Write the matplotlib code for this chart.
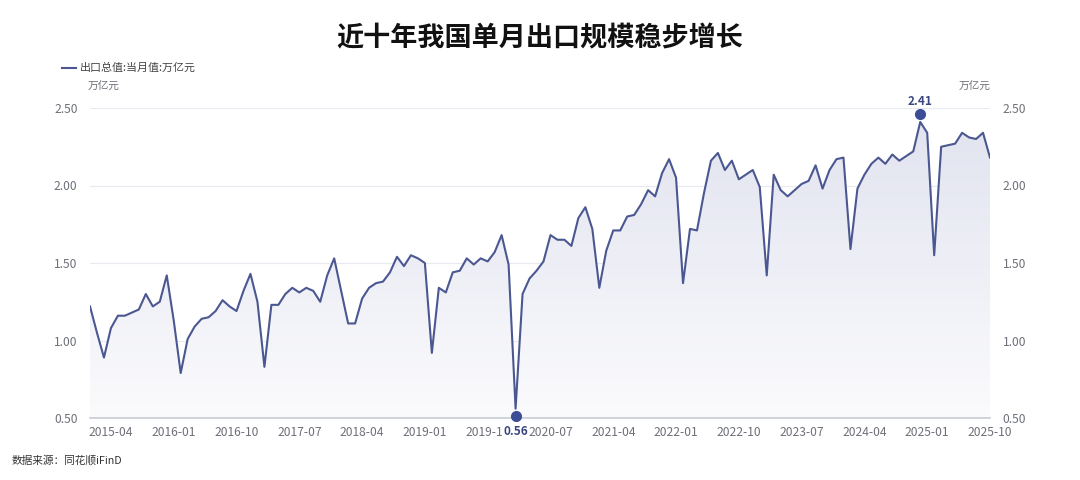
import numpy as np
import matplotlib
matplotlib.use('Agg')
import matplotlib.pyplot as plt
import matplotlib.transforms as mtransforms

plt.rcParams['font.family'] = ['Noto Sans CJK SC', 'DejaVu Sans']

#data: monthly export value, 2015-01 .. 2025-10 (万亿元)
months = [f'{y}-{m:02d}' for y in range(2015, 2026) for m in range(1, 13)][:130]
export_vals = [
    1.22, 1.05, 0.89, 1.08, 1.16, 1.16, 1.18, 1.20, 1.30, 1.22, 1.25, 1.42,   # 2015
    1.13, 0.79, 1.01, 1.09, 1.14, 1.15, 1.19, 1.26, 1.22, 1.19, 1.32, 1.43,   # 2016
    1.25, 0.83, 1.23, 1.23, 1.30, 1.34, 1.31, 1.34, 1.32, 1.25, 1.42, 1.53,   # 2017
    1.32, 1.11, 1.11, 1.27, 1.34, 1.37, 1.38, 1.44, 1.54, 1.48, 1.55, 1.53,   # 2018
    1.50, 0.92, 1.34, 1.31, 1.44, 1.45, 1.53, 1.49, 1.53, 1.51, 1.57, 1.68,   # 2019
    1.49, 0.56, 1.30, 1.40, 1.45, 1.51, 1.68, 1.65, 1.65, 1.61, 1.79, 1.86,   # 2020
    1.72, 1.34, 1.58, 1.71, 1.71, 1.80, 1.81, 1.88, 1.97, 1.93, 2.08, 2.17,   # 2021
    2.05, 1.37, 1.72, 1.71, 1.95, 2.16, 2.21, 2.10, 2.16, 2.04, 2.07, 2.10,   # 2022
    1.99, 1.42, 2.07, 1.97, 1.93, 1.97, 2.01, 2.03, 2.13, 1.98, 2.10, 2.17,   # 2023
    2.18, 1.59, 1.98, 2.07, 2.14, 2.18, 2.14, 2.20, 2.16, 2.19, 2.22, 2.41,   # 2024
    2.34, 1.55, 2.25, 2.26, 2.27, 2.34, 2.31, 2.30, 2.34, 2.18,               # 2025
]
tick_labels = ['2015-04', '2016-01', '2016-10', '2017-07', '2018-04', '2019-01',
               '2019-10', '2020-07', '2021-04', '2022-01', '2022-10', '2023-07',
               '2024-04', '2025-01', '2025-10']
y_ticks = [0.5, 1.0, 1.5, 2.0, 2.5]

x = np.arange(len(export_vals))
y = np.array(export_vals)
tick_pos = [months.index(t) for t in tick_labels]

line_c = '#4b5791'
mark_c = '#3d4c96'
grey = '#6e7079'

fig = plt.figure(figsize=(10.8, 4.8), dpi=100)
ax = fig.add_axes([90/1080, 62/480, 900/1080, 310/480])
ax.set_xlim(0, len(x) - 1)
ax.set_ylim(0.5, 2.5)

#gradient area under the line
poly = ax.fill_between(x, y, 0.5, color='none', lw=0)
grad = np.linspace(0, 1, 256).reshape(-1, 1)
cmap = matplotlib.colors.LinearSegmentedColormap.from_list('g', ['#fbfbfd', '#e1e3ef'])
img = ax.imshow(grad, cmap=cmap, aspect='auto', origin='lower',
                extent=[0, len(x) - 1, 0.5, 2.45], zorder=1)
img.set_clip_path(poly.get_paths()[0], transform=ax.transData)

ax.plot(x, y, color=line_c, lw=1.5, zorder=3)

for v in y_ticks[1:]:
    ax.axhline(v, color='#e8eaf1', lw=0.8, zorder=0)

for s in ['top', 'right', 'left']:
    ax.spines[s].set_visible(False)
ax.spines['bottom'].set_color('#c9ccd6')
ax.spines['bottom'].set_linewidth(1.2)

ax.set_xticks(tick_pos)
ax.set_xticklabels(tick_labels)
ax.set_yticks(y_ticks)
ax.set_yticklabels([f'{v:.2f}' for v in y_ticks])
ax.tick_params(axis='both', length=0, labelsize=8.7, labelcolor=grey)
ax.tick_params(axis='x', pad=6)
ax.tick_params(axis='y', pad=9)

ax2 = ax.twinx()
ax2.set_ylim(0.5, 2.5)
ax2.set_yticks(y_ticks)
ax2.set_yticklabels([f'{v:.2f}' for v in y_ticks])
ax2.tick_params(axis='y', length=0, labelsize=8.7, labelcolor=grey, pad=9)
for s in ax2.spines.values():
    s.set_visible(False)

#max / min markers
i_max = int(np.argmax(y))
i_min = int(np.argmin(y))
up = mtransforms.offset_copy(ax.transData, fig=fig, y=6, units='points')
down = mtransforms.offset_copy(ax.transData, fig=fig, y=-5, units='points')
ax.plot([x[i_max]], [y[i_max]], 'o', ms=7, color=mark_c, transform=up, clip_on=False, zorder=5)
ax.plot([x[i_min]], [y[i_min]], 'o', ms=7, color=mark_c, transform=down, clip_on=False, zorder=5)
ax.annotate(f'{y[i_max]:.2f}', (x[i_max], y[i_max]), xytext=(0, 15), textcoords='offset points',
            ha='center', va='center', fontsize=8.5, fontweight='bold', color='#3b4680')
ax.annotate(f'{y[i_min]:.2f}', (x[i_min], 0.5), xytext=(0, -10), textcoords='offset points',
            ha='center', va='center', fontsize=8.5, fontweight='bold', color='#3b4680',
            annotation_clip=False,
            bbox=dict(boxstyle='square,pad=0.05', fc='white', ec='none'))

#title, legend, units, source
fig.text(0.5, 1 - 38/480, '近十年我国单月出口规模稳步增长', ha='center', va='center',
         fontsize=19.5, fontweight='bold', color='#111111')
fig.add_artist(plt.Line2D([62/1080, 76/1080], [1 - 68/480] * 2, color=line_c, lw=1.5))
fig.text(80/1080, 1 - 68/480, '出口总值:当月值:万亿元', ha='left', va='center', fontsize=7.9, color='#444444')
fig.text(104/1080, 1 - 87/480, '万亿元', ha='center', va='center', fontsize=7.7, color=grey)
fig.text(975/1080, 1 - 87/480, '万亿元', ha='center', va='center', fontsize=7.7, color=grey)
fig.text(12/1080, 1 - 460/480, '数据来源：同花顺iFinD', ha='left', va='center', fontsize=7.7, color='#333333')

fig.savefig('out.png', dpi=100, facecolor='white')
